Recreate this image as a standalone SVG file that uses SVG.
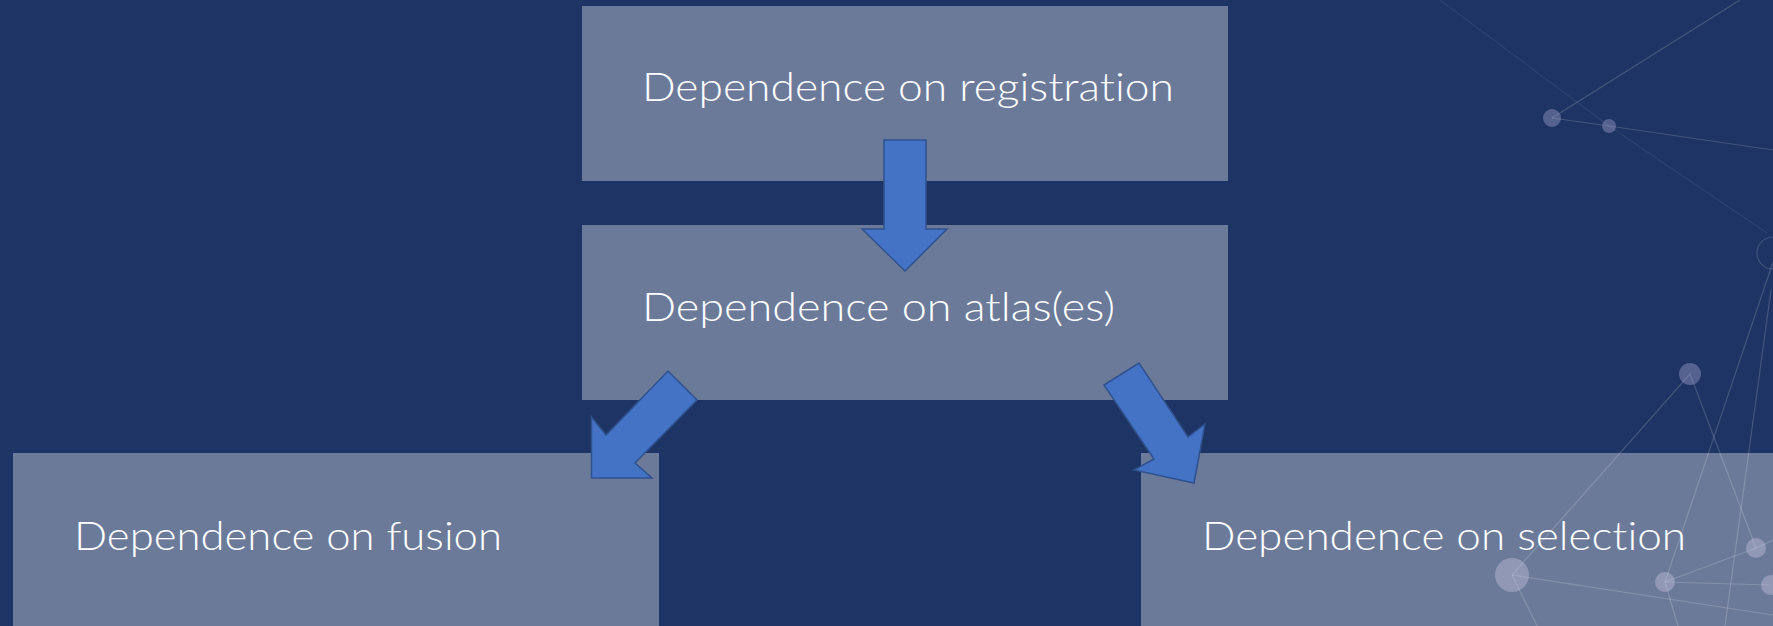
<svg xmlns="http://www.w3.org/2000/svg" width="1773" height="626" viewBox="0 0 1773 626">
  <style>
    .box { fill: #ffffff; fill-opacity: 0.35; }
    .label { font-family: Lato, "Open Sans", "Liberation Sans", sans-serif; font-weight: 300; font-size: 39px; fill: #ffffff; font-variant-ligatures: none; font-feature-settings: "liga" 0, "clig" 0; }
    .arrow { fill: #4472c4; stroke: #2f528f; stroke-width: 1.5; stroke-linejoin: miter; }
    .net line { stroke: #ffffff; stroke-opacity: 0.17; stroke-width: 1.2; }
    .net line.faint { stroke-opacity: 0.07; }
    .net circle { fill: #a8a8d0; fill-opacity: 0.4; }
  </style>
  <rect x="0" y="0" width="1773" height="626" fill="#1e3464"/>

  <g class="net" id="background-network">
    <line class="faint" x1="1440" y1="0" x2="1609" y2="126"/>
    <line class="faint" x1="1609" y1="126" x2="1767" y2="233"/>
    <line x1="1552" y1="118" x2="1740" y2="0"/>
    <line x1="1552" y1="118" x2="1609" y2="126"/>
    <line x1="1609" y1="126" x2="1773" y2="150"/>
    <circle cx="1773" cy="253" r="16" style="fill:none;stroke:#ffffff;stroke-opacity:0.15;stroke-width:1.2"/>
    <line x1="1773" y1="262" x2="1665" y2="582"/>
    <line x1="1771" y1="290" x2="1725" y2="626"/>
    <line x1="1690" y1="374" x2="1512" y2="575"/>
    <line x1="1690" y1="374" x2="1756" y2="548"/>
    <line x1="1665" y1="582" x2="1756" y2="548"/>
    <line x1="1665" y1="582" x2="1770" y2="585"/>
    <line x1="1665" y1="582" x2="1678" y2="626"/>
    <line x1="1756" y1="548" x2="1773" y2="540"/>
    <line x1="1512" y1="575" x2="1773" y2="615"/>
    <line x1="1512" y1="575" x2="1537" y2="626"/>
    <circle cx="1552" cy="118" r="9"/>
    <circle cx="1609" cy="126" r="7"/>
    <circle cx="1690" cy="374" r="11"/>
    <circle cx="1512" cy="575" r="17"/>
    <circle cx="1756" cy="548" r="10"/>
    <circle cx="1665" cy="582" r="10"/>
    <circle cx="1771" cy="585" r="10"/>
  </g>

  <g id="node-registration">
    <rect class="box" x="582" y="6" width="646" height="175"/>
    <text class="label" x="642" y="101" textLength="532" lengthAdjust="spacingAndGlyphs">Dependence on registration</text>
  </g>
  <g id="node-atlas">
    <rect class="box" x="582" y="225" width="646" height="175"/>
    <text class="label" x="642" y="321" textLength="473" lengthAdjust="spacingAndGlyphs">Dependence on atlas(es)</text>
  </g>
  <g id="node-fusion">
    <rect class="box" x="13" y="453" width="646" height="173"/>
    <text class="label" x="74" y="550" textLength="428" lengthAdjust="spacingAndGlyphs">Dependence on fusion</text>
  </g>
  <g id="node-selection">
    <rect class="box" x="1141" y="453" width="632" height="173"/>
    <text class="label" x="1202" y="550" textLength="484" lengthAdjust="spacingAndGlyphs">Dependence on selection</text>
  </g>

  <g id="connectors">
    <polygon class="arrow" points="884,140 926,140 926,229 947,229 905,271 862,229 884,229"/>
    <polygon class="arrow" points="668,371 697,400 635,463 652,478 591.5,478 591.5,417 606,435"/>
    <polygon class="arrow" points="1104,385 1139,363 1188,437 1205,424 1194,483 1134,470 1154,459"/>
  </g>
</svg>
